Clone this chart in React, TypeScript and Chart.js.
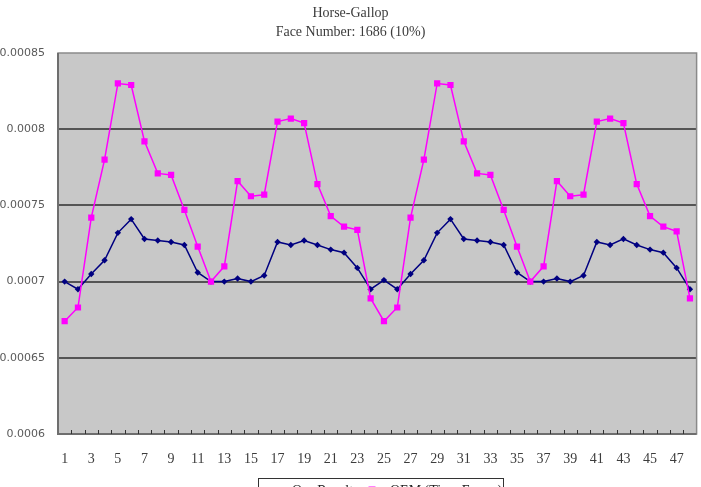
import { useEffect, useRef } from "react";
import { Chart, registerables } from "chart.js";

Chart.register(...registerables);

// Frame indices along the gallop cycle
const frames = [
  "1", "2", "3", "4", "5", "6", "7", "8", "9", "10", "11", "12",
  "13", "14", "15", "16", "17", "18", "19", "20", "21", "22", "23", "24",
  "25", "26", "27", "28", "29", "30", "31", "32", "33", "34", "35", "36",
  "37", "38", "39", "40", "41", "42", "43", "44", "45", "46", "47", "48",
];

// Error per frame, our method
const ourResult = [
  0.0007, 0.000695, 0.000705, 0.000714, 0.000732, 0.000741, 0.000728, 0.000727,
  0.000726, 0.000724, 0.000706, 0.0007, 0.0007, 0.000702, 0.0007, 0.000704,
  0.000726, 0.000724, 0.000727, 0.000724, 0.000721, 0.000719, 0.000709, 0.000695,
  0.000701, 0.000695, 0.000705, 0.000714, 0.000732, 0.000741, 0.000728, 0.000727,
  0.000726, 0.000724, 0.000706, 0.0007, 0.0007, 0.000702, 0.0007, 0.000704,
  0.000726, 0.000724, 0.000728, 0.000724, 0.000721, 0.000719, 0.000709, 0.000695,
];

// Error per frame, QEM applied frame by frame
const qemTimeFrame = [
  0.000674, 0.000683, 0.000742, 0.00078, 0.00083, 0.000829, 0.000792, 0.000771,
  0.00077, 0.000747, 0.000723, 0.0007, 0.00071, 0.000766, 0.000756, 0.000757,
  0.000805, 0.000807, 0.000804, 0.000764, 0.000743, 0.000736, 0.000734, 0.000689,
  0.000674, 0.000683, 0.000742, 0.00078, 0.00083, 0.000829, 0.000792, 0.000771,
  0.00077, 0.000747, 0.000723, 0.0007, 0.00071, 0.000766, 0.000756, 0.000757,
  0.000805, 0.000807, 0.000804, 0.000764, 0.000743, 0.000736, 0.000733, 0.000689,
];

const yTickValues = [0.0006, 0.00065, 0.0007, 0.00075, 0.0008, 0.00085];
const yTickLabels = ["0.0006", "0.00065", "0.0007", "0.00075", "0.0008", "0.00085"];

const titleLines = ["Horse-Gallop", "Face Number: 1686 (10%)"];
const seriesNames = ["Our Result", "QEM (Time Frame)"];

const NAVY = "#000080";
const MAGENTA = "#ff00ff";
const SERIF = '"Liberation Serif", "DejaVu Serif", serif';
const SANS = '"DejaVu Sans", sans-serif';
const TEXT = "#3c3c3c";

const decor = {
  id: "decor",
  beforeDraw(chart: any) {
    const { ctx, chartArea: a } = chart;
    ctx.save();
    ctx.fillStyle = "#ffffff";
    ctx.fillRect(0, 0, chart.width, chart.height);
    ctx.fillStyle = "#c8c8c8";
    ctx.fillRect(a.left, a.top, a.right - a.left, a.bottom - a.top);
    ctx.restore();
  },
  beforeDatasetsDraw(chart: any) {
    const { ctx, chartArea: a } = chart;
    const x = chart.scales.x;
    ctx.save();
    // plot frame
    ctx.strokeStyle = "#8a8a8a";
    ctx.lineWidth = 1.5;
    ctx.strokeRect(a.left, a.top, a.right - a.left, a.bottom - a.top);
    ctx.strokeStyle = "#6e6e6e";
    ctx.lineWidth = 2;
    ctx.beginPath();
    ctx.moveTo(a.left, a.top);
    ctx.lineTo(a.left, a.bottom);
    ctx.lineTo(a.right, a.bottom);
    ctx.stroke();
    // category tick marks on the x axis
    const n = frames.length;
    const step = (x.right - x.left) / n;
    ctx.strokeStyle = "#333333";
    ctx.lineWidth = 1;
    ctx.beginPath();
    for (let i = 1; i < n; i++) {
      const px = Math.round(x.left + i * step) + 0.5;
      ctx.moveTo(px, a.bottom);
      ctx.lineTo(px, a.bottom - 4);
    }
    ctx.stroke();
    ctx.restore();
  },
  afterDraw(chart: any) {
    const { ctx } = chart;
    ctx.save();
    // title
    ctx.fillStyle = TEXT;
    ctx.font = `14px ${SERIF}`;
    ctx.textAlign = "center";
    ctx.textBaseline = "middle";
    ctx.fillText(titleLines[0], chart.width / 2, 13);
    ctx.fillText(titleLines[1], chart.width / 2, 32);

    // legend box
    ctx.strokeStyle = "#333333";
    ctx.lineWidth = 1;
    ctx.strokeRect(258.5, 478.5, 245, 30);
    const ly = 491;
    ctx.textAlign = "left";
    ctx.font = `14px ${SERIF}`;
    // navy entry
    ctx.strokeStyle = NAVY;
    ctx.lineWidth = 1.5;
    ctx.beginPath();
    ctx.moveTo(265, ly);
    ctx.lineTo(287, ly);
    ctx.stroke();
    ctx.fillStyle = NAVY;
    ctx.beginPath();
    ctx.moveTo(276, ly - 3.5);
    ctx.lineTo(279.5, ly);
    ctx.lineTo(276, ly + 3.5);
    ctx.lineTo(272.5, ly);
    ctx.closePath();
    ctx.fill();
    ctx.fillStyle = "#222222";
    ctx.fillText(seriesNames[0], 292, ly);
    // magenta entry
    ctx.strokeStyle = MAGENTA;
    ctx.beginPath();
    ctx.moveTo(360, ly);
    ctx.lineTo(383, ly);
    ctx.stroke();
    ctx.fillStyle = MAGENTA;
    ctx.fillRect(368.5, ly - 4.5, 7, 7);
    ctx.fillStyle = "#222222";
    ctx.fillText(seriesNames[1], 390, ly);
    ctx.restore();
  },
};

export default function App() {
  const ref = useRef<HTMLCanvasElement | null>(null);

  useEffect(() => {
    if (!ref.current) return;
    const chart = new Chart(ref.current, {
      type: "line",
      data: {
        labels: frames,
        datasets: [
          {
            label: seriesNames[0],
            data: ourResult,
            borderColor: NAVY,
            backgroundColor: NAVY,
            borderWidth: 1.5,
            pointStyle: "rectRot",
            pointRadius: 3.2,
            pointBorderWidth: 0,
            pointBackgroundColor: NAVY,
            tension: 0,
            order: 1,
          },
          {
            label: seriesNames[1],
            data: qemTimeFrame,
            borderColor: MAGENTA,
            backgroundColor: MAGENTA,
            borderWidth: 1.5,
            pointStyle: "rect",
            pointRadius: 4.4,
            pointBorderWidth: 0,
            pointBackgroundColor: MAGENTA,
            tension: 0,
            order: 0,
          },
        ],
      },
      options: {
        responsive: false,
        animation: false,
        layout: { padding: { top: 53, left: 0, right: 4, bottom: 0 } },
        plugins: {
          legend: { display: false },
          title: { display: false },
          tooltip: { enabled: false },
        },
        scales: {
          x: {
            type: "category",
            offset: true,
            border: { display: false },
            grid: { display: false, drawTicks: false },
            afterFit: (s: any) => {
              s.height = 53;
              s.paddingLeft = 0;
              s.paddingRight = 0;
            },
            ticks: {
              autoSkip: false,
              maxRotation: 0,
              minRotation: 0,
              padding: 17,
              color: TEXT,
              font: { family: SERIF, size: 14 },
              callback: (_v: any, i: number) => (i % 2 === 0 ? frames[i] : ""),
            },
          },
          y: {
            type: "linear",
            min: yTickValues[0],
            max: yTickValues[yTickValues.length - 1],
            border: { display: false },
            afterFit: (s: any) => {
              s.width = 58;
            },
            afterBuildTicks: (s: any) => {
              s.ticks = yTickValues.map((v) => ({ value: v }));
            },
            grid: {
              drawTicks: false,
              lineWidth: 2,
              color: (c: any) =>
                c.index === 0 || c.index === yTickValues.length - 1
                  ? "rgba(0,0,0,0)"
                  : "#555555",
            },
            ticks: {
              padding: 13,
              color: "#5a5a5a",
              font: { family: SANS, size: 11 },
              callback: (_v: any, i: number) => yTickLabels[i],
            },
          },
        },
      },
      plugins: [decor],
    });
    return () => chart.destroy();
  }, []);

  return (
    <div style={{ position: "fixed", left: 0, top: 0, width: 701, height: 487, background: "#fff" }}>
      <canvas ref={ref} width={701} height={487} style={{ display: "block" }} />
    </div>
  );
}
